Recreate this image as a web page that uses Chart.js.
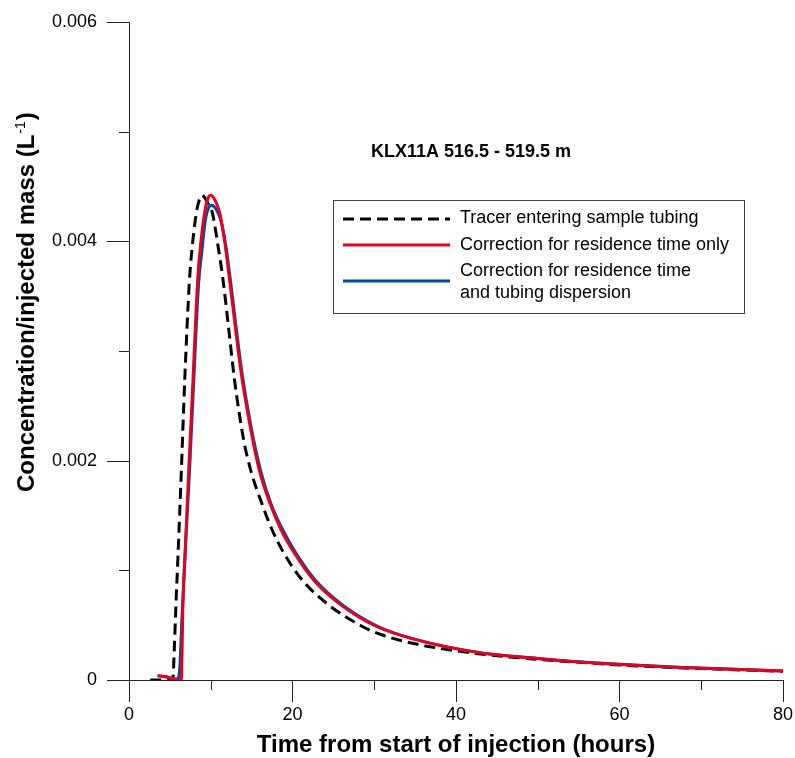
<!DOCTYPE html>
<html>
<head>
<meta charset="utf-8">
<script src="https://cdn.jsdelivr.net/npm/chart.js@4.4.1/dist/chart.umd.min.js"></script>
<style>
  html, body { margin: 0; padding: 0; background: #fff; }
  canvas { display: block; }
</style>
</head>
<body>
<canvas id="tracerChart" width="795" height="758"></canvas>
<script>
// Values (time in hours, concentration per injected mass in 1/L)
const tracerTimes = [2.6, 3.4, 4.5, 5.35, 5.55, 5.75, 5.97, 6.4, 6.82, 7.4, 7.8, 8.24, 8.6, 8.93, 9.25, 9.7, 10.2, 10.8, 11.5, 12.2, 12.9, 14.0, 14.9, 16.2, 17.5, 19.0, 21.2, 24.5, 28.5, 30.6, 35, 42.7, 50, 55, 60, 70, 80];
const tracerValues = [0, 0, 0, 0, 0.0003, 0.0007, 0.00109, 0.0019, 0.00274, 0.00365, 0.004, 0.00426, 0.00438, 0.00442, 0.0044, 0.00434, 0.00426, 0.004, 0.00365, 0.0032, 0.00274, 0.0022, 0.00191, 0.00162, 0.00137, 0.00115, 0.00091, 0.00068, 0.00049, 0.00042, 0.00033, 0.00024, 0.000188, 0.000162, 0.000137, 0.000104, 0.00008];

const residenceTimes = [3.5, 4.5, 5.5, 6.0, 6.4, 6.6, 6.82, 7.3, 7.83, 8.4, 8.8, 9.25, 9.6, 9.95, 10.5, 11.1, 11.7, 12.3, 13.0, 13.7, 14.8, 15.95, 17.3, 18.6, 20.2, 22.6, 26.0, 30.2, 35, 42.7, 50, 55, 60, 67, 80];
const residenceValues = [0.00004, 0.00003, 0.00001, 0, 0, 0.0007, 0.00109, 0.0019, 0.00274, 0.00365, 0.004, 0.00426, 0.00438, 0.00442, 0.00438, 0.00426, 0.004, 0.00365, 0.00322, 0.00281, 0.00232, 0.00191, 0.0016, 0.00137, 0.00116, 0.00091, 0.00068, 0.00049, 0.00037, 0.00025, 0.000195, 0.000165, 0.000142, 0.000116, 0.000082];

const dispersionTimes = [3.5, 4.5, 5.5, 5.9, 6.2, 6.5, 6.9, 7.4, 7.9, 8.5, 8.9, 9.35, 9.7, 10.1, 10.6, 11.2, 11.8, 12.4, 13.1, 13.8, 14.9, 16.1, 17.4, 18.8, 20.4, 22.8, 26.2, 30.4, 35, 42.7, 50, 55, 60, 67, 80];
const dispersionValues = [0.00004, 0.00003, 0.00001, 0.00001, 0.0001, 0.0006, 0.0012, 0.0019, 0.0027, 0.0036, 0.0039, 0.0042, 0.0043, 0.00433, 0.0043, 0.0042, 0.00398, 0.00365, 0.00322, 0.00281, 0.00232, 0.00191, 0.0016, 0.00137, 0.00116, 0.00091, 0.00068, 0.00049, 0.00037, 0.000252, 0.000197, 0.000166, 0.000143, 0.000117, 0.000083];

const seriesLabels = [
  ["Tracer entering sample tubing"],
  ["Correction for residence time only"],
  ["Correction for residence time", "and tubing dispersion"],
];
const chartTitle = "KLX11A 516.5 - 519.5 m";
const xTitle = "Time from start of injection (hours)";
const yTitleParts = ["Concentration/injected mass (L", "-1", ")"];

const FONT = "'Liberation Sans', Arial, Helvetica, sans-serif";
const RED = "rgb(228, 0, 30)";
const BLUE = "rgb(0, 72, 165)";

function toPoints(xs, ys) {
  return xs.map((x, i) => ({ x: x, y: ys[i] }));
}

// outward tick marks, long on labelled values, short in between
const tickMarks = {
  id: "tickMarks",
  afterDraw(chart) {
    const ctx = chart.ctx;
    const { left, bottom } = chart.chartArea;
    ctx.save();
    ctx.strokeStyle = "#222";
    ctx.lineWidth = 1;
    chart.scales.x.ticks.forEach((t) => {
      const px = Math.round(chart.scales.x.getPixelForValue(t.value)) + 0.5;
      const len = t.value % 20 === 0 ? 22 : 10;
      ctx.beginPath();
      ctx.moveTo(px, bottom);
      ctx.lineTo(px, bottom + len);
      ctx.stroke();
    });
    chart.scales.y.ticks.forEach((t) => {
      const py = Math.round(chart.scales.y.getPixelForValue(t.value)) + 0.5;
      const len = Math.round(t.value * 1000) % 2 === 0 ? 22 : 10;
      ctx.beginPath();
      ctx.moveTo(left, py);
      ctx.lineTo(left - len, py);
      ctx.stroke();
    });
    ctx.restore();
  },
};

// y title with superscript, title text and boxed legend inside the plot
const annotations = {
  id: "annotations",
  afterDraw(chart) {
    const ctx = chart.ctx;
    ctx.save();
    ctx.fillStyle = "#000";

    // rotated y-axis title
    ctx.save();
    ctx.translate(34, 492);
    ctx.rotate(-Math.PI / 2);
    ctx.textAlign = "left";
    ctx.textBaseline = "alphabetic";
    ctx.font = "bold 24px " + FONT;
    ctx.fillText(yTitleParts[0], 0, 0);
    let w = ctx.measureText(yTitleParts[0]).width + 1;
    ctx.font = "14px " + FONT;
    ctx.fillText(yTitleParts[1], w, -9);
    w += ctx.measureText(yTitleParts[1]).width + 1;
    ctx.font = "bold 24px " + FONT;
    ctx.fillText(yTitleParts[2], w, 0);
    ctx.restore();

    ctx.font = "bold 18px " + FONT;
    ctx.textAlign = "center";
    ctx.textBaseline = "middle";
    ctx.fillText(chartTitle, 471, 152);

    const boxX = 333, boxY = 200, boxW = 411, boxH = 113;
    ctx.strokeStyle = "#444";
    ctx.lineWidth = 1;
    ctx.strokeRect(boxX + 0.5, boxY + 0.5, boxW, boxH);

    const rows = [
      { lineY: 219, textY: [218] },
      { lineY: 245, textY: [245] },
      { lineY: 281, textY: [271, 293] },
    ];
    ctx.font = "18px " + FONT;
    ctx.textAlign = "left";
    [0, 1, 2].forEach((i) => {
      const ds = chart.data.datasets[i];
      ctx.beginPath();
      ctx.strokeStyle = ds.borderColor;
      ctx.lineWidth = 3;
      ctx.setLineDash(ds.borderDash || []);
      ctx.moveTo(343, rows[i].lineY);
      ctx.lineTo(450, rows[i].lineY);
      ctx.stroke();
      ctx.setLineDash([]);
      ctx.fillStyle = "#000";
      seriesLabels[i].forEach((line, j) => {
        ctx.fillText(line, 460, rows[i].textY[j]);
      });
    });
    ctx.restore();
  },
};

const ctx = document.getElementById("tracerChart").getContext("2d");

new Chart(ctx, {
  type: "line",
  data: {
    datasets: [
      {
        label: seriesLabels[0].join(" "),
        data: toPoints(tracerTimes, tracerValues),
        borderColor: "#000",
        borderWidth: 3,
        borderDash: [11, 6],
        order: 3,
      },
      {
        label: seriesLabels[1].join(" "),
        data: toPoints(residenceTimes, residenceValues),
        borderColor: RED,
        borderWidth: 3,
        order: 1,
      },
      {
        label: seriesLabels[2].join(" "),
        data: toPoints(dispersionTimes, dispersionValues),
        borderColor: BLUE,
        borderWidth: 3,
        order: 2,
      },
    ],
  },
  options: {
    responsive: false,
    animation: false,
    devicePixelRatio: 1,
    layout: { padding: { top: 22, right: 9, bottom: 0, left: 0 } },
    elements: {
      point: { radius: 0 },
      line: { cubicInterpolationMode: "monotone", fill: false },
    },
    plugins: {
      legend: { display: false },
      tooltip: { enabled: false },
    },
    scales: {
      x: {
        type: "linear",
        min: 0,
        max: 80,
        afterFit: (scale) => { scale.height = 78; },
        grid: { display: false, drawTicks: true, tickLength: 22 },
        border: { display: true, color: "#222", width: 1 },
        ticks: {
          stepSize: 10,
          padding: 2,
          color: "#000",
          font: { family: FONT, size: 18 },
          maxRotation: 0,
          callback: (v) => (v % 20 === 0 ? String(v) : ""),
        },
        title: {
          display: true,
          text: xTitle,
          color: "#000",
          padding: { top: 0, bottom: -2 },
          font: { family: FONT, size: 24, weight: "bold" },
        },
      },
      y: {
        type: "linear",
        min: 0,
        max: 0.006,
        afterFit: (scale) => { scale.width = 129; },
        grid: { display: false, drawTicks: true, tickLength: 22 },
        border: { display: true, color: "#222", width: 1 },
        ticks: {
          stepSize: 0.001,
          padding: 10,
          color: "#000",
          font: { family: FONT, size: 18 },
          callback: (v) => {
            const k = Math.round(v * 1000);
            if (k % 2 !== 0) return "";
            return k === 0 ? "0" : (k / 1000).toFixed(3);
          },
        },
        title: { display: false },
      },
    },
  },
  plugins: [tickMarks, annotations],
});
</script>
</body>
</html>
